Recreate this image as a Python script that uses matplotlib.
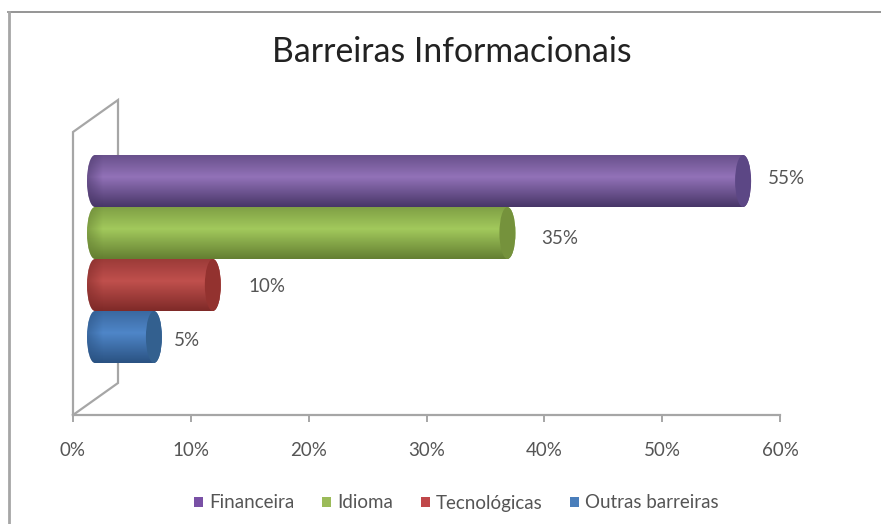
# Barreiras Informacionais - 3D look cylinder bars

import matplotlib
matplotlib.use("Agg")
import matplotlib.pyplot as plt
import numpy as np
from matplotlib.patches import Ellipse, PathPatch, Patch
from matplotlib.path import Path

plt.rcParams["font.family"] = ["Lato", "DejaVu Sans"]

W, H = 881, 524

categories = ["Outras barreiras", "Tecnológicas", "Idioma", "Financeira"]
values = [5, 10, 35, 55]
value_labels = ["5%", "10%", "35%", "55%"]
x_ticks = [0, 10, 20, 30, 40, 50, 60]
x_tick_labels = ["0%", "10%", "20%", "30%", "40%", "50%", "60%"]
mid_colors = ["#4f86c8", "#c0504d", "#a2c95c", "#9272b8"]
dark_colors = ["#2a5282", "#7f2a28", "#647f32", "#483668"]
cap_colors = ["#33608f", "#93322f", "#75923c", "#5c4785"]
legend_colors = ["#4a7ebb", "#c0474a", "#9bbb59", "#7950a5"]
label_offsets = [(12, -3), (28, -1), (26, -6), (17, 3)]


def px_x(p):
    return p / AX_W * 60


# plot area in pixels
AX_L, AX_R, AX_B, AX_T = 73, 780, 415, 132
AX_W = AX_R - AX_L
AX_H = AX_B - AX_T

fig = plt.figure(figsize=(W / 100, H / 100), dpi=100)
ax = fig.add_axes([AX_L / W, 1 - AX_B / H, AX_W / W, AX_H / H])
ax.set_xlim(0, 60)
# bars are 52 px apart, the lowest centred at y pixel 337
ax.set_ylim(-(AX_B - 337) / 52, (337 - AX_T) / 52)

for s in ["top", "left", "right"]:
    ax.spines[s].set_visible(False)
ax.spines["bottom"].set_color("#a6a6a6")
ax.spines["bottom"].set_linewidth(1.6)
ax.set_yticks([])
ax.set_xticks(x_ticks)
ax.set_xticklabels(x_tick_labels, fontsize=13.5, color="#555555")
ax.tick_params(axis="x", length=5, width=1.4, color="#a6a6a6", pad=14.5)

# side wall of the 3D box
dx, dy = px_x(45), 32 / 52
y0, y1 = ax.get_ylim()
ax.plot([0, 0, dx, dx, 0], [y0, y1, y1 + dy, y0 + dy, y0], color="#a6a6a6",
        lw=1.6, clip_on=False, zorder=1, solid_joinstyle="miter")

offset = px_x(22)
rx = px_x(8)
bar_h = 1.0


def gradient(mid, dark, n=64):
    c_mid = np.array(matplotlib.colors.to_rgb(mid))
    c_dark = np.array(matplotlib.colors.to_rgb(dark))
    t = np.linspace(0, 1, n)
    # lightest a bit above the middle, darkest along the lower edge
    w = np.where(t < 0.42, (0.42 - t) / 0.42 * 0.55, (t - 0.42) / 0.58)
    return (c_mid[None, :] * (1 - w[:, None]) + c_dark[None, :] * w[:, None])[:, None, :]


for i, val in enumerate(values):
    xa, xb = offset, val + offset
    top, bot = i + bar_h / 2, i - bar_h / 2
    k = 0.5523
    body = Path(
        [(xa, top), (xa - rx * k, top), (xa - rx, i + bar_h / 2 * k), (xa - rx, i),
         (xa - rx, i - bar_h / 2 * k), (xa - rx * k, bot), (xa, bot),
         (xb, bot),
         (xb + rx * k, bot), (xb + rx, i - bar_h / 2 * k), (xb + rx, i),
         (xb + rx, i + bar_h / 2 * k), (xb + rx * k, top), (xb, top),
         (xa, top)],
        [Path.MOVETO] + [Path.CURVE4] * 6 + [Path.LINETO] + [Path.CURVE4] * 6 + [Path.LINETO],
    )
    patch = PathPatch(body, fc="none", ec="none", zorder=2)
    ax.add_patch(patch)
    im = ax.imshow(gradient(mid_colors[i], dark_colors[i]), extent=[xa - rx, xb + rx, bot, top],
                   aspect="auto", origin="upper", zorder=2 + i * 0.01, interpolation="bilinear")
    im.set_clip_path(patch)
    # rounded shading on the left end
    shade = np.zeros((1, 32, 4))
    shade[..., :3] = matplotlib.colors.to_rgb(dark_colors[i])
    shade[..., 3] = np.linspace(0.55, 0, 32)
    sh = ax.imshow(shade, extent=[xa - rx, xa + rx, bot, top], aspect="auto",
                   zorder=2.1 + i * 0.01, interpolation="bilinear")
    sh.set_clip_path(patch)
    ax.add_patch(Ellipse((xb, i), 2 * rx, bar_h, fc=cap_colors[i], ec="none", zorder=3))
    ax.annotate(value_labels[i], (xb + rx, i), xytext=label_offsets[i], textcoords="offset pixels",
                ha="left", va="center", fontsize=13.5, color="#555555")

ax.set_xlim(0, 60)
ax.set_ylim(y0, y1)

fig.text(452 / W, 1 - 52 / H, "Barreiras Informacionais", ha="center", va="center",
         fontsize=24.3, color="#222222")

handles = [Patch(fc=legend_colors[i], label=categories[i]) for i in [3, 2, 1, 0]]
fig.legend(handles=handles, loc="center", bbox_to_anchor=(456.5 / W, 1 - 503 / H), ncol=4,
           frameon=False, fontsize=13.5, labelcolor="#555555", handlelength=0.48, handleheight=0.48,
           handletextpad=0.3, columnspacing=1.5)

# outer chart border, only partly visible in the original crop
fig.add_artist(plt.Line2D([8 / W, 881 / W], [1 - 12 / H, 1 - 12 / H], color="#8c8c8c", lw=1.3))
fig.add_artist(plt.Line2D([9 / W, 9 / W], [1 - 12 / H, 0], color="#a6a6a6", lw=2))

fig.savefig("out.png", dpi=100)
